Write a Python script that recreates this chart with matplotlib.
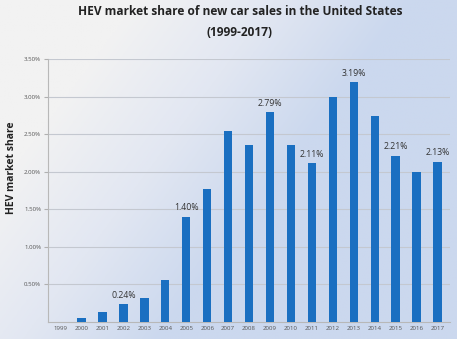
import numpy as np
import matplotlib
matplotlib.use("Agg")
import matplotlib.pyplot as plt
from matplotlib.colors import LinearSegmentedColormap
from matplotlib.ticker import FuncFormatter

years = [str(y) for y in range(1999, 2018)]
share = [0.00, 0.05, 0.13, 0.24, 0.32, 0.56, 1.40, 1.77, 2.54, 2.36,
         2.79, 2.36, 2.11, 3.00, 3.19, 2.74, 2.21, 1.99, 2.13]
labelled = ["2002", "2005", "2009", "2011", "2013", "2015", "2017"]

plt.rcParams['font.family'] = ['Open Sans', 'DejaVu Sans']

fig = plt.figure(figsize=(4.57, 3.39), dpi=100)

# soft gray-to-blue background across the whole figure
bg = fig.add_axes([0, 0, 1, 1], zorder=-10)
gx, gy = np.meshgrid(np.linspace(0, 1, 300), np.linspace(1, 0, 220))
t = np.clip((gx * 1.0 + (1 - gy) * 0.55 - 0.3) / 0.6, 0, 1)
cmap = LinearSegmentedColormap.from_list("bg", ["#f2f2f2", "#e2e7f2", "#cbd8ee"])
bg.imshow(t, cmap=cmap, aspect="auto", extent=[0, 1, 0, 1])
bg.axis("off")

ax = fig.add_axes([0.105, 0.05, 0.88, 0.776])
ax.patch.set_alpha(0)
x = np.arange(len(years))
ax.bar(x, share, width=0.4, color="#1a6fc1", zorder=3)

for i, (yr, v) in enumerate(zip(years, share)):
    if yr in labelled:
        ax.text(i, v + 0.06, "%.2f%%" % v, ha="center", va="bottom",
                fontsize=6.3, color="#333333", zorder=4)

ax.set_ylim(0, 3.5)
ax.set_xlim(-0.6, len(years) - 0.4)
ax.set_yticks(np.arange(0.5, 3.51, 0.5))
ax.yaxis.set_major_formatter(FuncFormatter(lambda v, p: "%.2f%%" % v))
ax.set_xticks(x)
ax.set_xticklabels(years)
ax.tick_params(axis="both", labelsize=4.4, colors="#555555", length=0, pad=3)
ax.tick_params(axis="y", length=3, color="#b0b0b0", pad=2)
ax.yaxis.grid(True, color="#c4c8d0", linewidth=0.8, zorder=0)
for s in ["top", "right"]:
    ax.spines[s].set_visible(False)
for s in ["left", "bottom"]:
    ax.spines[s].set_color("#b8b8b8")
    ax.spines[s].set_linewidth(0.8)

fig.text(0.026, 0.505, "HEV market share", rotation=90, ha="center", va="center",
         fontsize=7.5, fontweight="bold", color="#222222")

fig.text(0.525, 0.985, "HEV market share of new car sales in the United States",
         ha="center", va="top", fontsize=8.6, fontweight="bold", color="#222222")
fig.text(0.525, 0.923, "(1999-2017)", ha="center", va="top",
         fontsize=8.6, fontweight="bold", color="#222222")

fig.savefig("out.png", dpi=100)
